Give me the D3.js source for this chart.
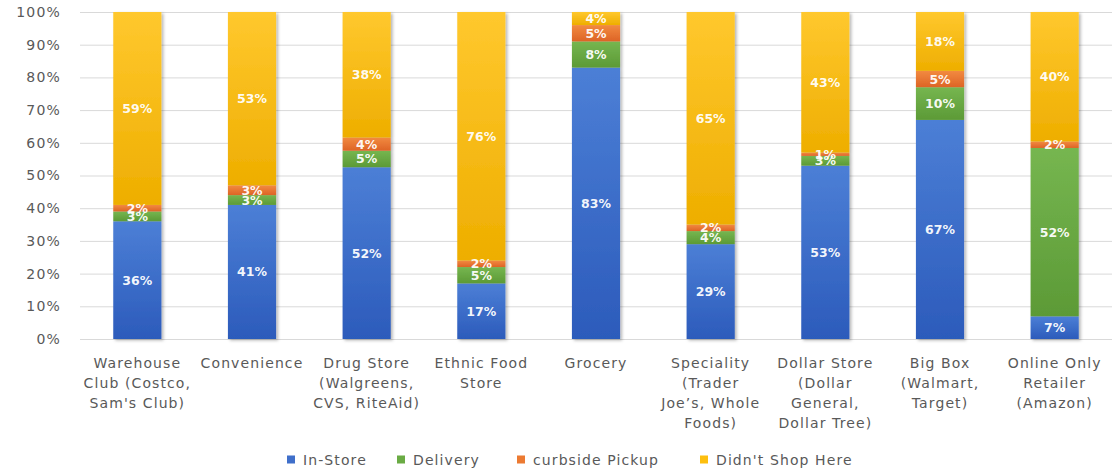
<!DOCTYPE html>
<html>
<head>
<meta charset="utf-8">
<script src="https://cdn.jsdelivr.net/npm/d3@7"></script>
<style>
  html, body { margin: 0; padding: 0; background: #ffffff; }
  svg { display: block; }
  .axis text { font-family: "DejaVu Sans", sans-serif; fill: #595959; }
</style>
</head>
<body>
<svg id="chart" width="1115" height="472"></svg>
<script>
// Store categories (line breaks mark how each axis label wraps)
const categories = [
  "Warehouse\nClub (Costco,\nSam's Club)",
  "Convenience",
  "Drug Store\n(Walgreens,\nCVS, RiteAid)",
  "Ethnic Food\nStore",
  "Grocery",
  "Speciality\n(Trader\nJoe’s, Whole\nFoods)",
  "Dollar Store\n(Dollar\nGeneral,\nDollar Tree)",
  "Big Box\n(Walmart,\nTarget)",
  "Online Only\nRetailer\n(Amazon)"
];

// Share of respondents per shopping mode (%)
const inStore      = [36, 41, 52, 17, 83, 29, 53, 67, 7];
const delivery     = [3, 3, 5, 5, 8, 4, 3, 10, 52];
const curbside     = [2, 3, 4, 2, 5, 2, 1, 5, 2];
const didntShop    = [59, 53, 38, 76, 4, 65, 43, 18, 40];

const seriesNames  = ["In-Store", "Delivery", "curbside Pickup", "Didn't Shop Here"];
const yTicks       = [0, 0.1, 0.2, 0.3, 0.4, 0.5, 0.6, 0.7, 0.8, 0.9, 1.0];

const seriesColors = ["#3f6fca", "#6aab44", "#ec7a32", "#fdbf0f"];
const gradStops = [
  ["#4c7fd6", "#2c5bbb"],
  ["#76b650", "#5c9a36"],
  ["#f28a40", "#dd6426"],
  ["#ffc82e", "#eeae00"]
];

const rows = categories.map((c, i) => ({
  category: c,
  "In-Store": inStore[i],
  "Delivery": delivery[i],
  "curbside Pickup": curbside[i],
  "Didn't Shop Here": didntShop[i]
}));

const svg = d3.select("#chart");
const margin = { left: 80, right: 3, top: 12, bottom: 133 };
const W = 1115, H = 472;

const x = d3.scaleBand()
  .domain(categories)
  .range([margin.left, W - margin.right])
  .paddingInner(0.58)
  .paddingOuter(0.29);

const y = d3.scaleLinear()
  .domain([0, 1])
  .range([H - margin.bottom, margin.top]);

const stack = d3.stack()
  .keys(seriesNames)
  .offset(d3.stackOffsetExpand);
const stacked = stack(rows);

// Gradients and bar shadow
const defs = svg.append("defs");
gradStops.forEach((s, i) => {
  const g = defs.append("linearGradient")
    .attr("id", "grad" + i)
    .attr("x1", 0).attr("y1", 0).attr("x2", 0).attr("y2", 1);
  g.append("stop").attr("offset", "0%").attr("stop-color", s[0]);
  g.append("stop").attr("offset", "100%").attr("stop-color", s[1]);
});
const shadow = defs.append("filter").attr("id", "shadow")
  .attr("x", "-20%").attr("y", "-5%").attr("width", "150%").attr("height", "115%");
shadow.append("feDropShadow")
  .attr("dx", 2).attr("dy", 1.5).attr("stdDeviation", 1.6)
  .attr("flood-color", "#000").attr("flood-opacity", 0.28);

// Horizontal gridlines
const yAxis = d3.axisLeft(y)
  .tickValues(yTicks)
  .tickFormat(d3.format(".0%"))
  .tickSize(-(W - margin.left - margin.right))
  .tickPadding(19);

const yG = svg.append("g")
  .attr("class", "axis")
  .attr("transform", `translate(${margin.left},0)`)
  .call(yAxis);
yG.select(".domain").remove();
yG.selectAll(".tick line").attr("stroke", "#d9d9d9").attr("stroke-width", 1);
yG.selectAll(".tick text")
  .style("font-size", "14px")
  .style("letter-spacing", "1.2px");

// Stacked bars
const layers = svg.append("g").attr("filter", "url(#shadow)")
  .selectAll("g")
  .data(stacked)
  .join("g")
  .attr("fill", (d, i) => `url(#grad${i})`);

layers.selectAll("rect")
  .data(d => d)
  .join("rect")
  .attr("x", d => x(d.data.category))
  .attr("width", x.bandwidth())
  .attr("y", d => y(d[1]))
  .attr("height", d => y(d[0]) - y(d[1]));

// Value labels centred in each segment
const labels = svg.append("g");
stacked.forEach((layer) => {
  labels.selectAll(null)
    .data(layer)
    .join("text")
    .attr("x", d => x(d.data.category) + x.bandwidth() / 2)
    .attr("y", d => (y(d[0]) + y(d[1])) / 2)
    .attr("dy", "0.36em")
    .attr("text-anchor", "middle")
    .style("font-family", "'DejaVu Sans', sans-serif")
    .style("font-weight", "bold")
    .style("font-size", "12.5px")
    .attr("fill", "#ffffff")
    .attr("fill-opacity", 0.95)
    .text(d => d.data[layer.key] + "%");
});

// Category axis (multi-line labels)
const xAxis = d3.axisBottom(x).tickSize(0).tickPadding(0);
const xG = svg.append("g")
  .attr("class", "axis")
  .attr("transform", `translate(0,${H - margin.bottom})`)
  .call(xAxis);
xG.select(".domain").remove();
xG.selectAll(".tick text").each(function (d) {
  const t = d3.select(this);
  t.text(null).attr("y", 0).attr("dy", null)
    .style("font-size", "14px")
    .style("letter-spacing", "1.1px");
  d.split("\n").forEach((line, i) => {
    t.append("tspan")
      .attr("x", 0)
      .attr("y", 29 + i * 20)
      .text(line);
  });
});

// Legend
const legendX = [287, 397, 517, 700];
const legend = svg.append("g").attr("class", "axis");
seriesNames.forEach((name, i) => {
  const g = legend.append("g").attr("transform", `translate(${legendX[i]},460)`);
  g.append("rect")
    .attr("x", 0).attr("y", -4.5)
    .attr("width", 8).attr("height", 8)
    .attr("fill", seriesColors[i]);
  g.append("text")
    .attr("x", 16).attr("y", 0).attr("dy", "0.36em")
    .style("font-size", "14px")
    .style("letter-spacing", "1.1px")
    .text(name);
});
</script>
</body>
</html>
